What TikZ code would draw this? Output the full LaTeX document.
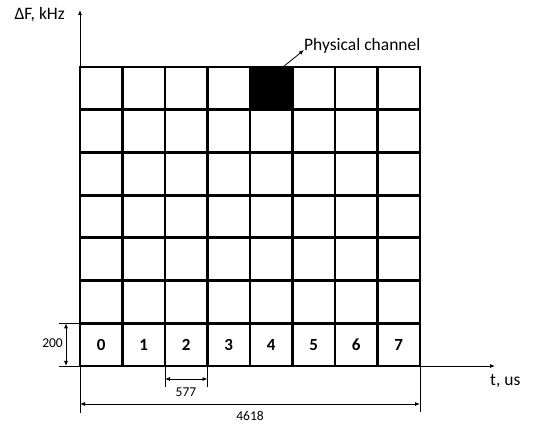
\documentclass[tikz,border=0pt]{standalone}
\usepackage{fontspec}
\setmainfont{Carlito}
\usetikzlibrary{arrows.meta}
\begin{document}
\begin{tikzpicture}[x=1pt,y=-1pt,
  gridline/.style={line width=2.9pt,line cap=rect},
  thin/.style={line width=0.8pt},
  tip/.style={-{Latex[length=5pt,width=4pt]}},
  dtip/.style={{Latex[length=5pt,width=4pt]}-{Latex[length=5pt,width=4pt]}},
  num/.style={font=\fontsize{17}{19}\selectfont\bfseries},
  lbl/.style={font=\fontsize{17.5}{20}\selectfont},
  dim/.style={font=\fontsize{13.5}{15}\selectfont}]
\useasboundingbox (0,0) rectangle (536,427);
% black cell
\fill (250,67) rectangle (292.5,109.7);
% grid
\foreach \i in {0,...,8} \draw[gridline] (80+42.5*\i,67) -- (80+42.5*\i,366);
\foreach \j in {0,...,7} \draw[gridline] (80,67+42.714*\j) -- (420,67+42.714*\j);
% numbers
\foreach \i in {0,...,7} \node[num] (c\i) at (101.25+42.5*\i,344.6) {\i};
% axes
\coordinate (o) at (80,366);
\coordinate (ytip) at (80,10);
\coordinate (xs) at (420,366);
\coordinate (xtip) at (495,366);
\draw[thin,tip] (o) -- (ytip);
\draw[thin,tip] (xs) -- (xtip);
\node[lbl,anchor=east,inner sep=0pt] (ylab) at (65,15) {ΔF, kHz};
\node[lbl,anchor=west,inner sep=0pt] (xlab) at (490,381) {t, us};
% physical channel
\coordinate (pcs) at (283,67);
\coordinate (pce) at (304,50);
\draw[thin,tip] (pcs) -- (pce);
\node[lbl,anchor=west,inner sep=0pt] (pclab) at (304,46) {Physical channel};
% 200
\coordinate (a1) at (59,323.3);
\coordinate (a2) at (80,323.3);
\coordinate (b1) at (59,366);
\coordinate (b2) at (80,366);
\draw[thin] (a1) -- (a2);
\draw[thin] (b1) -- (b2);
\coordinate (d200t) at (66,323.3);
\coordinate (d200b) at (66,366);
\draw[thin,dtip] (d200t) -- (d200b);
\node[dim,anchor=east,inner sep=0pt] (l200) at (63,343) {200};
% 577
\coordinate (e1) at (165,366);
\coordinate (e2) at (165,387);
\coordinate (f1) at (207.5,366);
\coordinate (f2) at (207.5,387);
\draw[thin] (e1) -- (e2);
\draw[thin] (f1) -- (f2);
\coordinate (d577l) at (165,379);
\coordinate (d577r) at (207.5,379);
\draw[thin,dtip] (d577l) -- (d577r);
\node[dim] (l577) at (186,392) {577};
% 4618
\coordinate (g1) at (80,366);
\coordinate (g2) at (80,413);
\coordinate (h1) at (420,366);
\coordinate (h2) at (420,412);
\draw[thin] (g1) -- (g2);
\draw[thin] (h1) -- (h2);
\coordinate (d4l) at (80,404);
\coordinate (d4r) at (420,404);
\draw[thin,dtip] (d4l) -- (d4r);
\node[dim] (l4618) at (250,416) {4618};
\end{tikzpicture}
\end{document}
